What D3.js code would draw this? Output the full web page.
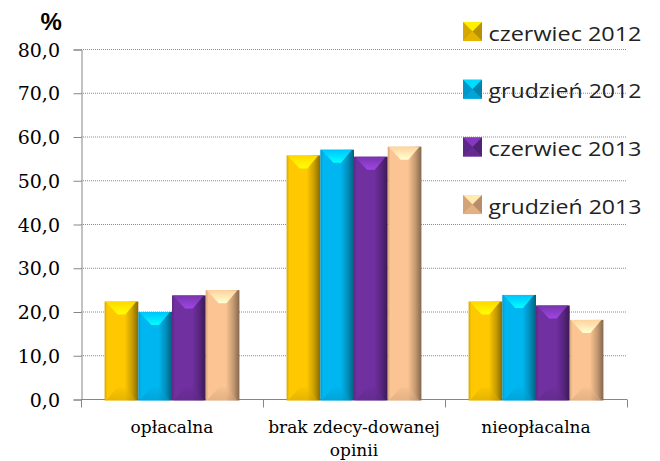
<!DOCTYPE html>
<html>
<head>
<meta charset="utf-8">
<script src="https://cdn.jsdelivr.net/npm/d3@7"></script>
</head>
<body style="margin:0">
<script>
// data
var categories = ["opłacalna", "brak zdecy-dowanej opinii", "nieopłacalna"];
var seriesNames = ["czerwiec 2012", "grudzień 2012", "czerwiec 2013", "grudzień 2013"];
var seriesColors = ["#ffc800", "#00b6f0", "#7030a0", "#fbc492"];
var czerwiec2012 = [22.4, 55.8, 22.4];
var grudzien2012 = [20.0, 57.1, 23.9];
var czerwiec2013 = [23.8, 55.5, 21.5];
var grudzien2013 = [25.0, 57.8, 18.2];
var yTicks = [0, 10, 20, 30, 40, 50, 60, 70, 80];
var unitLabel = "%";

var seriesValues = [czerwiec2012, grudzien2012, czerwiec2013, grudzien2013];

var width = 660, height = 461;

var svg = d3.select("body")
  .append("svg")
  .attr("width", width)
  .attr("height", height)
  .style("display", "block");

var defs = svg.append("defs");

// scales
var x0 = d3.scaleBand().domain(categories).range([81, 627]).padding(0);
var x1 = d3.scaleBand().domain(seriesNames).range([0, x0.bandwidth()]).paddingInner(0).paddingOuter(0.7);
var y = d3.scaleLinear().domain([0, 80]).range([399.5, 49.5]);

var plLocale = d3.formatLocale({decimal: ",", thousands: " ", grouping: [3], currency: ["", " zł"]});
var fmt = plLocale.format(".1f");

var axisColor = "#868686";

// gradients for the bevelled bars
seriesColors.forEach(function(c, i) {
  var base = d3.color(c);
  var side = defs.append("linearGradient").attr("id", "side" + i)
    .attr("x1", 0).attr("x2", 1).attr("y1", 0).attr("y2", 0);
  side.append("stop").attr("offset", 0).attr("stop-color", base.darker(0.5));
  side.append("stop").attr("offset", 0.08).attr("stop-color", base);
  side.append("stop").attr("offset", 0.6).attr("stop-color", base);
  side.append("stop").attr("offset", 0.82).attr("stop-color", base.darker(0.7));
  side.append("stop").attr("offset", 1).attr("stop-color", base.darker(1.8));

  var top = defs.append("linearGradient").attr("id", "top" + i)
    .attr("x1", 0).attr("x2", 0).attr("y1", 0).attr("y2", 1);
  top.append("stop").attr("offset", 0).attr("stop-color", base.brighter(0.2));
  top.append("stop").attr("offset", 1).attr("stop-color", base.brighter(1.0));

  var bot = defs.append("linearGradient").attr("id", "bot" + i)
    .attr("x1", 0).attr("x2", 0).attr("y1", 0).attr("y2", 1);
  bot.append("stop").attr("offset", 0).attr("stop-color", base.darker(0.1));
  bot.append("stop").attr("offset", 1).attr("stop-color", base.darker(0.6));
});

// dotted gridlines
svg.append("g")
  .selectAll("line")
  .data(yTicks.filter(function(d) { return d > 0; }))
  .enter().append("line")
  .attr("x1", x0.range()[0]).attr("x2", x0.range()[1])
  .attr("y1", function(d) { return y(d); })
  .attr("y2", function(d) { return y(d); })
  .attr("stroke", "#8a8a8a")
  .attr("stroke-width", 1)
  .attr("stroke-dasharray", "1,1");

// y axis: domain and ticks from d3, labels drawn as plain texts
var yAxis = svg.append("g")
  .attr("transform", "translate(" + (x0.range()[0] + 0.5) + ",0)")
  .call(d3.axisLeft(y).tickValues(yTicks).tickSize(8).tickFormat(""));
yAxis.select(".domain").attr("stroke", axisColor);
yAxis.selectAll(".tick line").attr("stroke", axisColor);

svg.append("g")
  .selectAll("text")
  .data(yTicks)
  .enter().append("text")
  .attr("x", 60)
  .attr("y", function(d) { return y(d) + 7; })
  .attr("text-anchor", "end")
  .attr("font-family", "DejaVu Serif")
  .style("font-family", "DejaVu Serif")
  .style("font-size", "19px")
  .text(fmt);

// x axis: line with ticks at the band edges
var xAxis = svg.append("g");
xAxis.append("line")
  .attr("x1", x0.range()[0]).attr("x2", x0.range()[1])
  .attr("y1", y(0)).attr("y2", y(0))
  .attr("stroke", axisColor);
var edges = categories.map(function(c) { return x0(c); }).concat([x0.range()[1]]);
xAxis.selectAll("line.tick")
  .data(edges)
  .enter().append("line")
  .attr("class", "tick")
  .attr("x1", function(d) { return Math.round(d) + 0.5; })
  .attr("x2", function(d) { return Math.round(d) + 0.5; })
  .attr("y1", y(0)).attr("y2", y(0) + 8)
  .attr("stroke", axisColor);

// bars
var groups = svg.append("g")
  .selectAll("g")
  .data(categories)
  .enter().append("g")
  .attr("transform", function(c) { return "translate(" + x0(c) + ",0)"; });

var bars = groups.selectAll("g.bar")
  .data(function(c, ci) {
    return seriesNames.map(function(s, si) {
      return {series: s, si: si, value: seriesValues[si][ci]};
    });
  })
  .enter().append("g")
  .attr("class", "bar");

function barGeom(d) {
  var bx = x1(d.series), bw = x1.bandwidth();
  var by = y(d.value), bh = y(0) + 1 - by;
  var b = Math.min(13, bh / 2, bw / 2 - 3);
  return {x: bx, y: by, w: bw, h: bh, b: b};
}

bars.append("rect")
  .attr("x", function(d) { return barGeom(d).x; })
  .attr("y", function(d) { return barGeom(d).y; })
  .attr("width", function(d) { return barGeom(d).w; })
  .attr("height", function(d) { return barGeom(d).h; })
  .attr("fill", function(d) { return "url(#side" + d.si + ")"; });

bars.append("path")
  .attr("d", function(d) {
    var g = barGeom(d);
    return "M" + (g.x + 1) + "," + g.y + "L" + (g.x + g.w - 2) + "," + g.y +
      "L" + (g.x + g.w - g.b) + "," + (g.y + g.b) + "L" + (g.x + g.b) + "," + (g.y + g.b) + "Z";
  })
  .attr("fill", function(d) { return "url(#top" + d.si + ")"; });

bars.append("path")
  .attr("d", function(d) {
    var g = barGeom(d), yb = g.y + g.h;
    return "M" + (g.x + 1) + "," + yb + "L" + (g.x + g.w - 2) + "," + yb +
      "L" + (g.x + g.w - g.b) + "," + (yb - g.b) + "L" + (g.x + g.b) + "," + (yb - g.b) + "Z";
  })
  .attr("fill", function(d) { return "url(#bot" + d.si + ")"; })
  .attr("opacity", 0.5);

// category labels; the long one goes onto two lines
var catLines = categories.map(function(c) {
  return c.length > 20 ? [c.slice(0, c.lastIndexOf(" ")), c.slice(c.lastIndexOf(" ") + 1)] : [c];
});
var catText = svg.append("g")
  .selectAll("g")
  .data(categories)
  .enter().append("g");
catText.selectAll("text")
  .data(function(c, i) {
    return catLines[i].map(function(l, li) { return {c: c, line: l, li: li}; });
  })
  .enter().append("text")
  .attr("x", function(d) { return x0(d.c) + x0.bandwidth() / 2; })
  .attr("y", function(d) { return 433 + d.li * 23; })
  .attr("text-anchor", "middle")
  .attr("font-family", "DejaVu Serif")
  .style("font-family", "DejaVu Serif")
  .style("font-size", "17px")
  .text(function(d) { return d.line; });

// unit label
svg.append("text")
  .attr("x", 40.5)
  .attr("y", 30)
  .style("font-family", "'Liberation Sans'")
  .style("font-weight", "bold")
  .style("font-size", "24px")
  .text(unitLabel);

// legend
var legend = svg.append("g")
  .selectAll("g")
  .data(seriesNames)
  .enter().append("g")
  .attr("transform", function(d, i) { return "translate(463," + (31.5 + i * 57.7) + ")"; });

legend.each(function(s, i) {
  var g = d3.select(this), base = d3.color(seriesColors[i]), sz = 19, h = sz / 2;
  g.append("rect").attr("x", 0).attr("y", -h).attr("width", sz).attr("height", sz)
    .attr("fill", base);
  // pyramid facets
  g.append("path").attr("d", "M0," + (-h) + "L" + sz + "," + (-h) + "L" + h + ",0Z")
    .attr("fill", base.brighter(0.5));
  g.append("path").attr("d", "M0," + h + "L" + sz + "," + h + "L" + h + ",0Z")
    .attr("fill", base.darker(0.3));
  g.append("path").attr("d", "M0," + (-h) + "L0," + h + "L" + h + ",0Z")
    .attr("fill", base.darker(0.5));
  g.append("path").attr("d", "M" + sz + "," + (-h) + "L" + sz + "," + h + "L" + h + ",0Z")
    .attr("fill", base.darker(0.9));
});

legend.append("text")
  .attr("x", 25.5)
  .attr("y", 9)
  .style("font-family", "'Open Sans'")
  .style("font-size", "20px")
  .style("fill", "#222")
  .attr("textLength", 153)
  .attr("lengthAdjust", "spacingAndGlyphs")
  .text(function(d) { return d; });
</script>
</body>
</html>
